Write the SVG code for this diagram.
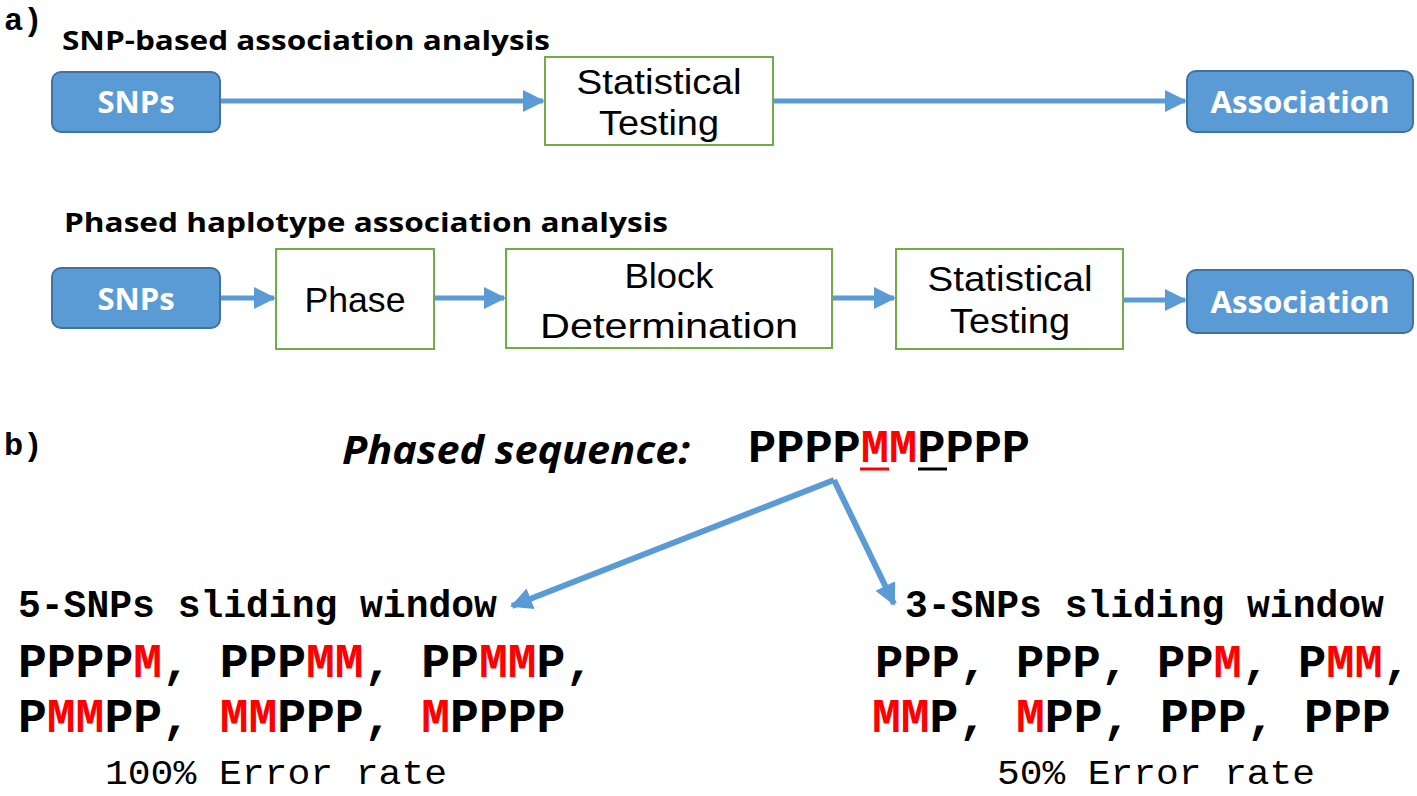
<svg xmlns="http://www.w3.org/2000/svg" width="1417" height="796" viewBox="0 0 1417 796">
<style>
.lbl{font-family:"Liberation Mono",monospace;font-weight:bold;font-size:32px;fill:#000}
.hd{font-family:"Open Sans","Liberation Sans",sans-serif;font-weight:bold;font-size:27px;fill:#000}
.blue rect{fill:#5B9BD5;stroke:#41719C;stroke-width:2}
.blue text{font-family:"Open Sans","Liberation Sans",sans-serif;font-weight:bold;font-size:31px;fill:#fff;text-anchor:middle}
.green rect{fill:#fff;stroke:#70AD47;stroke-width:2}
.green text{font-family:"Liberation Sans",Arial,sans-serif;font-size:35px;fill:#000;text-anchor:middle}
.conn line{stroke:#5B9BD5;stroke-width:5;fill:none}
.mono{font-family:"Liberation Mono",monospace;font-weight:bold;fill:#000}
.r{fill:#FF0000}
.rate{font-family:"Liberation Mono",monospace;font-size:35px;fill:#000}
</style>
<defs>
<marker id="ah" markerUnits="userSpaceOnUse" markerWidth="24" markerHeight="24" refX="20" refY="12" orient="auto">
<path d="M0,1 L22,12 L0,23 Z" fill="#5B9BD5"/>
</marker>
</defs>

<text class="lbl" x="4" y="30">a)</text>
<text class="hd" x="62" y="50" textLength="488" lengthAdjust="spacingAndGlyphs">SNP-based association analysis</text>
<text class="hd" x="64" y="232" textLength="604" lengthAdjust="spacingAndGlyphs">Phased haplotype association analysis</text>

<g class="conn">
<line x1="221" y1="101" x2="543" y2="101" marker-end="url(#ah)"/>
<line x1="774" y1="101" x2="1185" y2="101" marker-end="url(#ah)"/>
<line x1="221" y1="298" x2="274" y2="298" marker-end="url(#ah)"/>
<line x1="435" y1="298" x2="504" y2="298" marker-end="url(#ah)"/>
<line x1="833" y1="298" x2="894" y2="298" marker-end="url(#ah)"/>
<line x1="1124" y1="300" x2="1185" y2="300" marker-end="url(#ah)"/>
<line x1="834" y1="480" x2="512" y2="606" marker-end="url(#ah)" style="stroke-width:6"/>
<line x1="834" y1="480" x2="894" y2="604" marker-end="url(#ah)" style="stroke-width:6"/>
</g>

<g id="snps1" class="blue"><rect x="52" y="72" width="168" height="60" rx="9"/><text x="136" y="113">SNPs</text></g>
<g id="stat1" class="green"><rect x="545" y="57" width="228" height="88"/><text x="659" y="94" textLength="165" lengthAdjust="spacingAndGlyphs">Statistical</text><text x="659" y="135" textLength="120" lengthAdjust="spacingAndGlyphs">Testing</text></g>
<g id="assoc1" class="blue"><rect x="1187" y="71" width="226" height="61" rx="9"/><text x="1300" y="113" textLength="179" lengthAdjust="spacingAndGlyphs">Association</text></g>

<g id="snps2" class="blue"><rect x="52" y="268" width="168" height="60" rx="9"/><text x="136" y="310">SNPs</text></g>
<g id="phase" class="green"><rect x="276" y="249" width="158" height="100"/><text x="355" y="312" textLength="101" lengthAdjust="spacingAndGlyphs">Phase</text></g>
<g id="block" class="green"><rect x="506" y="249" width="326" height="99"/><text x="669" y="288" textLength="89" lengthAdjust="spacingAndGlyphs">Block</text><text x="669" y="338" textLength="258" lengthAdjust="spacingAndGlyphs">Determination</text></g>
<g id="stat2" class="green"><rect x="896" y="249" width="227" height="100"/><text x="1010" y="291" textLength="165" lengthAdjust="spacingAndGlyphs">Statistical</text><text x="1010" y="333" textLength="120" lengthAdjust="spacingAndGlyphs">Testing</text></g>
<g id="assoc2" class="blue"><rect x="1187" y="270" width="226" height="63" rx="9"/><text x="1300" y="313" textLength="179" lengthAdjust="spacingAndGlyphs">Association</text></g>

<text class="lbl" x="4" y="455">b)</text>
<text x="342" y="464" font-family="'Open Sans','Liberation Sans',sans-serif" font-weight="bold" font-style="italic" font-size="40" textLength="348" lengthAdjust="spacingAndGlyphs">Phased sequence:</text>
<g id="seq">
<text class="mono" x="748" y="462" font-size="47">PPPP<tspan class="r">MM</tspan>PPPP</text>
<line x1="860" y1="469" x2="889" y2="469" stroke="#FF0000" stroke-width="3"/>
<line x1="918" y1="469" x2="947" y2="469" stroke="#000" stroke-width="3"/>
</g>

<g id="win5">
<text class="mono" x="18" y="617" font-size="38">5-SNPs sliding window</text>
<text class="mono" x="18" y="677" font-size="48">PPPP<tspan class="r">M</tspan>, PPP<tspan class="r">MM</tspan>, PP<tspan class="r">MM</tspan>P,</text>
<text class="mono" x="18" y="732" font-size="48">P<tspan class="r">MM</tspan>PP, <tspan class="r">MM</tspan>PPP, <tspan class="r">M</tspan>PPPP</text>
<text class="rate" x="105" y="784" textLength="342" lengthAdjust="spacingAndGlyphs">100% Error rate</text>
</g>
<g id="win3">
<text class="mono" x="905" y="617" font-size="38">3-SNPs sliding window</text>
<text class="mono" x="875" y="677" font-size="47">PPP, PPP, PP<tspan class="r">M</tspan>, P<tspan class="r">MM</tspan>,</text>
<text class="mono" x="872" y="732" font-size="48"><tspan class="r">MM</tspan>P, <tspan class="r">M</tspan>PP, PPP, PPP</text>
<text class="rate" x="997" y="784" textLength="318" lengthAdjust="spacingAndGlyphs">50% Error rate</text>
</g>
</svg>
